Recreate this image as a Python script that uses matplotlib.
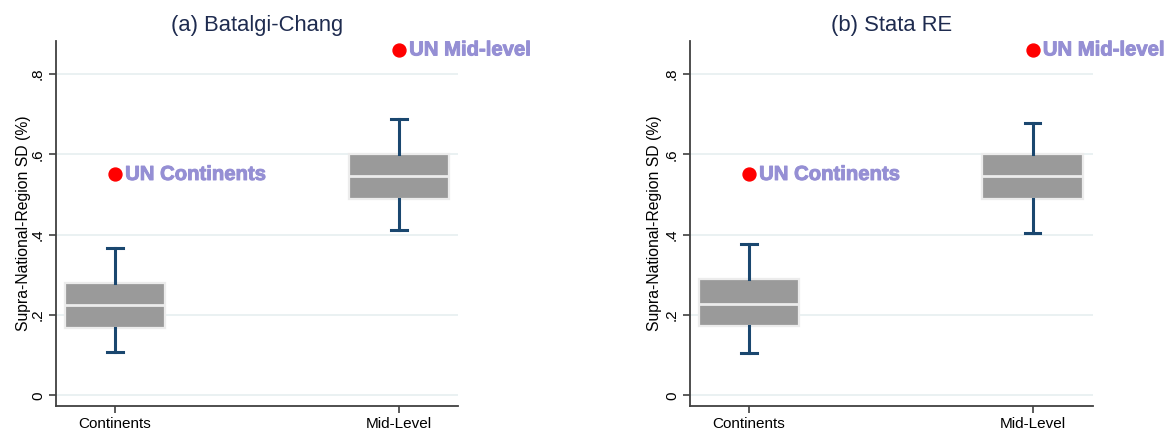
import matplotlib
matplotlib.use("Agg")
import matplotlib.pyplot as plt
import matplotlib.patheffects as pe
from matplotlib.ticker import FuncFormatter

plt.rcParams['font.family'] = ['Liberation Sans', 'DejaVu Sans']

categories = ["Continents", "Mid-Level"]

# Panel (a) Batalgi-Chang
a_whislo = [0.108, 0.412]
a_q1 = [0.167, 0.490]
a_med = [0.224, 0.547]
a_q3 = [0.279, 0.602]
a_whishi = [0.367, 0.687]

# Panel (b) Stata RE
b_whislo = [0.105, 0.404]
b_q1 = [0.173, 0.489]
b_med = [0.227, 0.545]
b_q3 = [0.290, 0.601]
b_whishi = [0.377, 0.678]

un_values = [0.55, 0.86]
un_labels = ["UN Continents", "UN Mid-level"]

titles = ["(a) Batalgi-Chang", "(b) Stata RE"]
yticks = [0, 0.2, 0.4, 0.6, 0.8]

NAVY = "#1a476f"
TITLE_C = "#1e2b4f"
LAV = "#958fd4"
GRID_C = "#e8f0f1"
SPINE_C = "#404040"

W, H = 1173, 430
fig = plt.figure(figsize=(W / 100, H / 100), dpi=100)
axes_px = [(56, 458), (690, 1092.7)]
top_px, bot_px = 40.7, 405.5
xlims = [(0.7922, 2.2076), (0.7920, 2.2114)]
box_widths = [0.349, 0.355]

panels = [
    (a_whislo, a_q1, a_med, a_q3, a_whishi),
    (b_whislo, b_q1, b_med, b_q3, b_whishi),
]

for k, (wl, q1, med, q3, wh) in enumerate(panels):
    l, r = axes_px[k]
    ax = fig.add_axes([l / W, 1 - bot_px / H, (r - l) / W, (bot_px - top_px) / H])
    stats = []
    for i, cat in enumerate(categories):
        stats.append(dict(label=cat, whislo=wl[i], q1=q1[i], med=med[i],
                          q3=q3[i], whishi=wh[i], fliers=[]))
    pos = list(range(1, len(categories) + 1))
    ax.bxp(stats, positions=pos, widths=box_widths[k], patch_artist=True,
           showfliers=False, capwidths=0.054,
           boxprops=dict(facecolor="#9a9a9a", edgecolor="#ececec", linewidth=1.6),
           medianprops=dict(color="#ececec", linewidth=2.0),
           whiskerprops=dict(color=NAVY, linewidth=2.2),
           capprops=dict(color=NAVY, linewidth=2.2),
           zorder=3)
    ax.plot(pos, un_values, 'o', color="#ff0000", markersize=9.3, zorder=4,
            clip_on=False, linestyle='none')
    for i, (v, lab) in enumerate(zip(un_values, un_labels)):
        ax.annotate(lab, xy=(pos[i], v), xytext=(7.3, 0), textcoords='offset points',
                    ha='left', va='center', fontsize=14.6, fontweight='bold',
                    color=LAV, annotation_clip=False,
                    path_effects=[pe.withStroke(linewidth=0.7, foreground=LAV)])
    ax.set_xlim(*xlims[k])
    ax.set_ylim(-0.025, 0.883)
    ax.set_yticks(yticks)
    ax.yaxis.set_major_formatter(FuncFormatter(
        lambda v, p: "0" if abs(v) < 1e-9 else ("%.1f" % v).lstrip("0")))
    for t in yticks:
        ax.axhline(t, color=GRID_C, linewidth=1.3, zorder=0)
    ax.set_xticks(pos)
    ax.set_xticklabels(categories)
    ax.tick_params(axis='y', labelrotation=90, labelsize=11, length=5,
                   width=1.2, color=SPINE_C, pad=3)
    for lab in ax.get_yticklabels():
        lab.set_va('center')
    ax.tick_params(axis='x', labelsize=11, length=5, width=1.2,
                   color=SPINE_C, pad=3)
    ax.spines['top'].set_visible(False)
    ax.spines['right'].set_visible(False)
    for s in ['left', 'bottom']:
        ax.spines[s].set_color(SPINE_C)
        ax.spines[s].set_linewidth(1.3)
    ax.set_ylabel("Supra-National-Region SD (%)", fontsize=11.3,
                  labelpad=0 if k == 0 else 2)
    ax.set_title(titles[k], fontsize=15.8, color=TITLE_C, pad=7)

fig.savefig("out.png", dpi=100)
